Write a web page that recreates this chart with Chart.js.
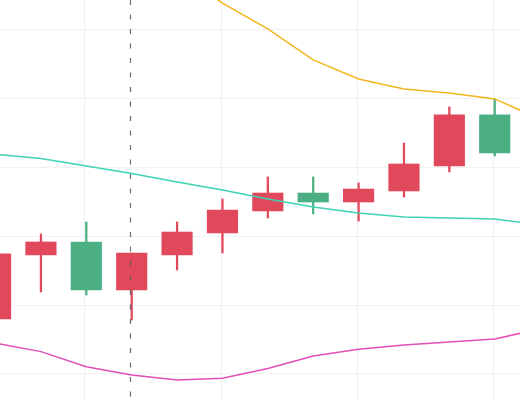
<!DOCTYPE html>
<html>
<head>
<meta charset="utf-8">
<script src="https://cdn.jsdelivr.net/npm/chart.js@4"></script>
<style>
  html, body { margin: 0; padding: 0; background: #fff; }
  #wrap { width: 520px; height: 400px; }
</style>
</head>
<body>
<div id="wrap"><canvas id="myChart"></canvas></div>
<script>
// candles (session index on x)
const days = [1, 2, 3, 4, 5, 6, 7, 8, 9, 10, 11, 12];
const open = [98.99, 103.64, 104.58, 101.10, 103.64, 105.23, 106.83, 108.13, 107.48, 108.28, 110.09, 113.80];
const high = [103.90, 105.16, 106.03, 103.78, 106.03, 107.70, 109.30, 109.30, 108.86, 111.76, 114.38, 114.96];
const low = [98.80, 100.95, 100.73, 98.92, 102.55, 103.78, 106.32, 106.61, 106.10, 107.84, 109.66, 110.82];
const close = [103.71, 104.58, 101.10, 103.78, 105.30, 106.90, 108.13, 107.48, 108.42, 110.24, 113.80, 111.04];

// bands, one point more than the candles
const bandDays = [1, 2, 3, 4, 5, 6, 7, 8, 9, 10, 11, 12, 13];
const upper = [null, null, null, null, 124.17, 121.92, 120.04, 117.79, 116.41, 115.68, 115.39, 114.96, 113.5];
const middle = [110.93, 110.64, 110.09, 109.55, 108.93, 108.35, 107.7, 107.12, 106.68, 106.39, 106.32, 106.25, 105.81];
const lower = [97.23, 96.62, 95.53, 94.93, 94.56, 94.69, 95.4, 96.31, 96.79, 97.1, 97.32, 97.54, 98.27];

// grid positions
const xGrid = [2.97, 5.97, 8.97, 11.97];
const yGrid = [95, 100, 105, 110, 115, 120];
const crossX = 3.97;

const UP = "#e2485b";
const DOWN = "#4caf84";

const candleColor = days.map((d, i) => (close[i] >= open[i] ? UP : DOWN));

const crosshair = {
  id: "crosshair",
  afterDatasetsDraw(chart) {
    const { ctx, chartArea, scales } = chart;
    const x = Math.round(scales.x.getPixelForValue(crossX)) + 0.5;
    ctx.save();
    ctx.strokeStyle = "rgba(90,90,100,0.9)";
    ctx.lineWidth = 1.2;
    ctx.setLineDash([5, 9.5]);
    ctx.beginPath();
    ctx.moveTo(x, chartArea.top);
    ctx.lineTo(x, chartArea.bottom);
    ctx.stroke();
    ctx.restore();
  },
};

const ctx = document.getElementById("myChart");

new Chart(ctx, {
  type: "bar",
  data: {
    datasets: [
      {
        type: "line",
        label: "Upper",
        data: bandDays.map((d, i) => ({ x: d, y: upper[i] })),
        borderColor: "#f2b51e",
        borderWidth: 1.5,
        pointRadius: 0,
        tension: 0,
        order: 0,
      },
      {
        type: "line",
        label: "Middle",
        data: bandDays.map((d, i) => ({ x: d, y: middle[i] })),
        borderColor: "#3ed3b2",
        borderWidth: 1.5,
        pointRadius: 0,
        tension: 0,
        order: 0,
      },
      {
        type: "line",
        label: "Lower",
        data: bandDays.map((d, i) => ({ x: d, y: lower[i] })),
        borderColor: "#e24fb9",
        borderWidth: 1.5,
        pointRadius: 0,
        tension: 0,
        order: 0,
      },
      {
        label: "Body",
        data: days.map((d, i) => ({ x: d, y: [open[i], close[i]] })),
        backgroundColor: candleColor,
        barThickness: 30.5,
        grouped: false,
        order: 1,
      },
      {
        label: "Wick",
        data: days.map((d, i) => ({ x: d, y: [low[i], high[i]] })),
        backgroundColor: candleColor,
        barThickness: 1.6,
        grouped: false,
        order: 2,
      },
    ],
  },
  options: {
    responsive: true,
    maintainAspectRatio: false,
    animation: false,
    layout: { padding: 0 },
    plugins: {
      legend: { display: false },
      tooltip: { enabled: false },
    },
    scales: {
      x: {
        type: "linear",
        min: 1.098,
        max: 12.557,
        offset: false,
        afterBuildTicks(axis) {
          axis.ticks = xGrid.map((v) => ({ value: v }));
        },
        ticks: { display: false },
        grid: { color: "#f0f1f3", drawTicks: false, offset: false },
        border: { display: false },
      },
      y: {
        min: 93.11,
        max: 122.14,
        beginAtZero: false,
        afterBuildTicks(axis) {
          axis.ticks = yGrid.map((v) => ({ value: v }));
        },
        ticks: { display: false },
        grid: { color: "#f0f1f3", drawTicks: false },
        border: { display: false },
      },
    },
  },
  plugins: [crosshair],
});
</script>
</body>
</html>
